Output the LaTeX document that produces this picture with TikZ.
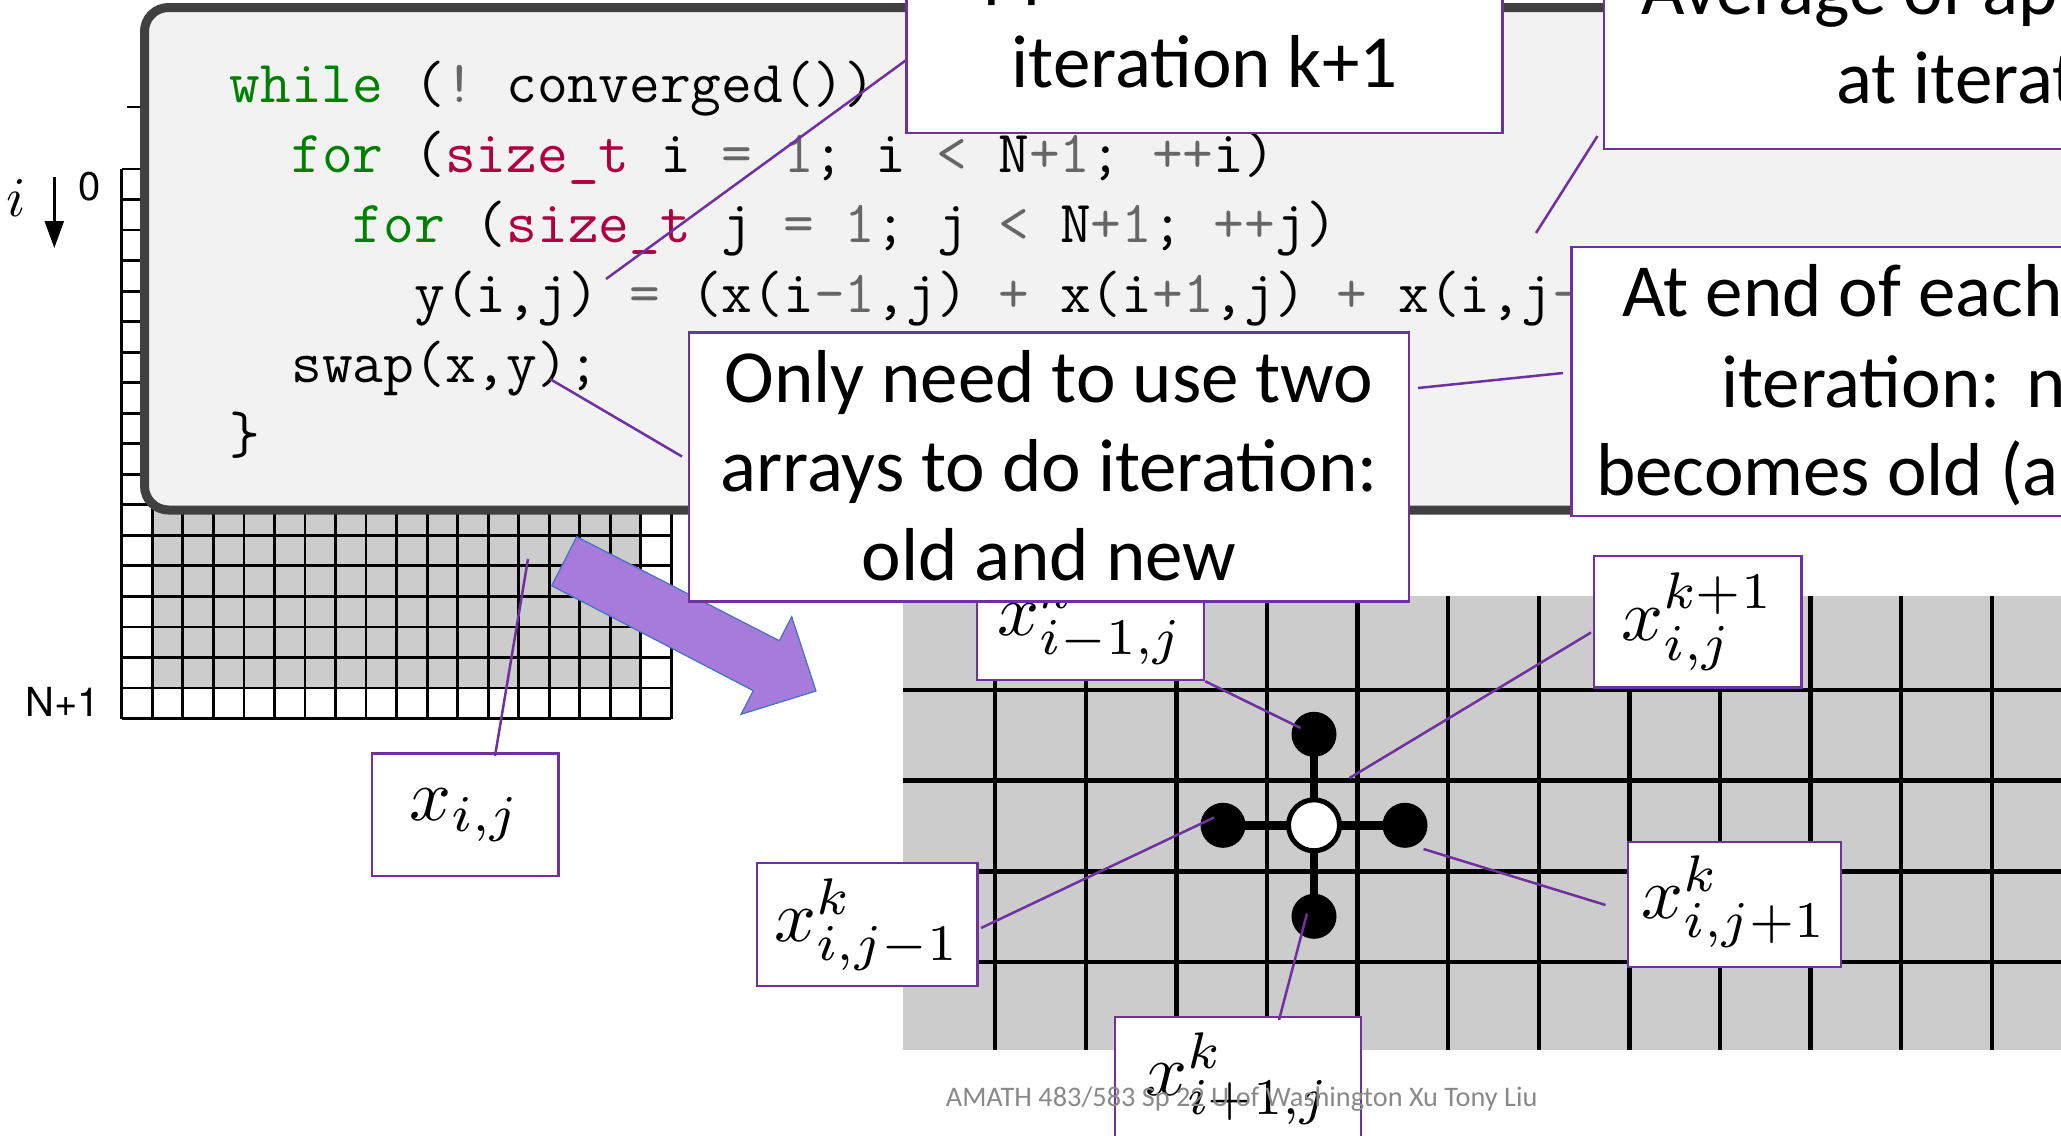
\documentclass[tikz,border=0pt]{standalone}
\usepackage{fix-cm}
\usepackage{fontspec}
\usetikzlibrary{arrows.meta}
\newfontfamily\slidefont{Carlito}
\newfontfamily\herosfont{TeX Gyre Heros}

\definecolor{callout}{HTML}{7030A0}
\definecolor{codefill}{HTML}{F2F2F2}
\definecolor{codeedge}{HTML}{404040}
\definecolor{cellgray}{HTML}{CCCCCC}
\definecolor{arrowfill}{HTML}{A67BDB}
\definecolor{arrowedge}{HTML}{4472C4}
\definecolor{kwgreen}{HTML}{008000}
\definecolor{tyred}{HTML}{B00040}
\definecolor{opgray}{HTML}{666666}
\definecolor{footgray}{HTML}{898989}

% syntax colouring for the code listing
\newcommand\ckw[1]{\textcolor{kwgreen}{#1}}
\newcommand\cty[1]{\textcolor{tyred}{#1}}
\newcommand\cop[1]{\textcolor{opgray}{#1}}

\tikzset{
  gridline/.style={line width=2.8pt, black},
  bigline/.style={line width=4.5pt, black},
  callbox/.style={rectangle, draw=callout, line width=2.5pt, fill=white, inner sep=0pt},
  leader/.style={draw=callout, line width=2.5pt},
  slidetext/.style={font=\slidefont\fontsize{75}{90}\selectfont, inner sep=0pt},
  codeline/.style={font=\ttfamily\fontsize{59.7}{70}\selectfont, inner sep=0pt, anchor=base west},
  % formulas are set at 10pt and enlarged, so sub- and superscripts keep their small-size design
  mathlabel/.style={font=\fontsize{10}{12}\selectfont, scale=7.35, inner sep=0pt},
  axislabel/.style={font=\herosfont\fontsize{40}{44}\selectfont, inner sep=0pt},
  stencildot/.style={circle, fill=black, inner sep=0pt, minimum size=45pt},
}

\begin{document}
\frenchspacing
\begin{tikzpicture}[x=1pt,y=-1pt]
\useasboundingbox (0,0) rectangle (2061,1135);
\clip (0,0) rectangle (2061,1135);

% ---- array x with its boundary cells ----
\fill[cellgray] (152.33,199.53) rectangle (640.81,688.01);
\foreach \k in {0,...,18}{
  \draw[gridline] ({121.8+\k*30.53},169) -- ({121.8+\k*30.53},718.5);
  \draw[gridline] (121.8,{169+\k*30.53}) -- (671.4,{169+\k*30.53});
}
\coordinate (tickw) at (127,107);
\coordinate (ticke) at (145,107);
\draw[gridline] (tickw) -- (ticke);

\coordinate (itop) at (54.3,177.4);
\coordinate (itip) at (54.3,248);
\draw[line width=2.5pt, -{Triangle[length=27pt,width=19pt]}] (itop) -- (itip);
\node[font=\fontsize{10}{12}\selectfont, scale=5.6, inner sep=0pt] (ilab) at (16.5,198) {$i$};
\node[axislabel] (zerolab) at (90,186.5) {0};
\node[axislabel] (nlab) at (62.5,701.5) {N+1};

% ---- code listing ----
\node[draw=codeedge, line width=9pt, fill=codefill, rounded corners=24pt,
      minimum width=2155pt, minimum height=502.5pt, inner sep=0pt] (codebox) at (1222,258.75) {};
\node[codeline] (code1) at (229.5,102)   {\ckw{while} (\cop{!} converged())};
\node[codeline] (code2) at (291.1,172.2) {\ckw{for} (\cty{size\_t} i \cop{=} \cop{1}; i \cop{<} N\cop{+1}; \cop{++}i)};
\node[codeline] (code3) at (352.7,242.4) {\ckw{for} (\cty{size\_t} j \cop{=} \cop{1}; j \cop{<} N\cop{+1}; \cop{++}j)};
\node[codeline] (code4) at (414.3,312.6) {y(i,j) \cop{=} (x(i\cop{-1},j) \cop{+} x(i\cop{+1},j) \cop{+} x(i,j\cop{-}};
\node[codeline] (code5) at (291.1,382.8) {swap(x,y);};
\node[codeline] (code6) at (229.5,453)   {\}};

% ---- five-point stencil on the mesh ----
\fill[cellgray] (902.6,596) rectangle (2100,1050);
\foreach \y in {690,780.7,871.4,962.1}
  \draw[bigline] (902.6,\y) -- (2100,\y);
\foreach \k in {0,...,12}
  \draw[bigline] ({995.2+\k*90.6},596) -- ({995.2+\k*90.6},1050);

\coordinate (sc) at (1314,825.3);
\coordinate (sn) at (1314,734.3);
\coordinate (ss) at (1314,916.3);
\coordinate (sw) at (1223,825.3);
\coordinate (se) at (1405,825.3);
\draw[line width=8.5pt] (sn) -- (ss);
\draw[line width=8.5pt] (sw) -- (se);
\node[stencildot] (dn) at (sn) {};
\node[stencildot] (ds) at (ss) {};
\node[stencildot] (dw) at (sw) {};
\node[stencildot] (de) at (se) {};
\node[circle, draw=black, line width=5pt, fill=white, inner sep=0pt, minimum size=51pt] (dc) at (sc) {};

% ---- block arrow from the array to the mesh ----
\filldraw[fill=arrowfill, draw=arrowedge, line width=1.2pt, line join=miter]
  (576.7,536.7) -- (779.3,640.7) -- (791.7,616.7) -- (816,691)
  -- (741,714.3) -- (753.3,690.7) -- (551.7,585.7) -- cycle;

% ---- labels of the stencil points ----
\node[callbox, minimum width=186.6pt, minimum height=122.4pt] (bxij) at (465.3,814.8) {};
\node[mathlabel] (txij) at (bxij.center) {$x_{i,j}$};
\node[callbox, minimum width=220.5pt, minimum height=123pt] (bwest) at (867.25,924.5) {};
\node[mathlabel] (twest) at (bwest.center) {$x^{k}_{i,j-1}$};
\node[callbox, minimum width=227pt, minimum height=123pt] (bnorth) at (1090.5,618.5) {};
\node[mathlabel] (tnorth) at (bnorth.center) {$x^{k}_{i-1,j}$};
\node[callbox, minimum width=207.5pt, minimum height=131.5pt] (bnew) at (1697.75,621.75) {};
\node[mathlabel] (tnew) at (bnew.center) {$x^{k+1}_{i,j}$};
\node[callbox, minimum width=213pt, minimum height=125pt] (beast) at (1734.5,904.5) {};
\node[mathlabel] (teast) at ([yshift=3pt]beast.center) {$x^{k}_{i,j+1}$};
\node[callbox, minimum width=246pt, minimum height=123pt] (bsouth) at (1238,1078.5) {};
\node[mathlabel] (tsouth) at (bsouth.center) {$x^{k}_{i+1,j}$};

% ---- callouts ----
\node[callbox, minimum width=596pt, minimum height=233pt] (boxA) at (1204.5,16.7) {};
\node[slidetext, anchor=base] (boxAa) at (1204.5,-6) {Approximation at};
\node[slidetext, anchor=base] (boxAb) at (1204.5,87.3) {iteration k+1};

\node[callbox, minimum width=854pt, minimum height=249pt] (boxB) at (2031,24.5) {};
\node[slidetext, anchor=base west] (boxBa) at (1641,14.3) {Average of approximation};
\node[slidetext, anchor=base west] (boxBb) at (1836,103.6) {at iteration k};

\node[callbox, minimum width=720pt, minimum height=269pt] (boxC) at (1049,467) {};
\node[slidetext, anchor=base] (boxCa) at (1049,402) {Only need to use two};
\node[slidetext, anchor=base] (boxCb) at (1049,491) {arrays to do iteration:};
\node[slidetext, anchor=base] (boxCc) at (1049,580) {old and new};

\node[callbox, minimum width=830pt, minimum height=269pt] (boxD) at (1986.5,381.5) {};
\node[slidetext, anchor=base west] (boxDa) at (1622,316) {At end of each};
\node[slidetext, anchor=base west] (boxDb) at (1721,407) {iteration:\hspace{9pt} new};
\node[slidetext, anchor=base west] (boxDc) at (1596,495) {becomes old (and};

% ---- leader lines ----
\coordinate (xijpin) at (528,559);
\coordinate (xijfoot) at (495,756);
\coordinate (westpin) at (1214,817.5);
\coordinate (westfoot) at (981,928);
\coordinate (northpin) at (1300.5,728);
\coordinate (newpin) at (1349.5,778);
\coordinate (newfoot) at (1591,632.5);
\coordinate (eastpin) at (1423.5,849);
\coordinate (eastfoot) at (1605.5,905);
\coordinate (southpin) at (1307,913.5);
\coordinate (southfoot) at (1279,1020);
\coordinate (updpin) at (606,279);
\coordinate (updfoot) at (907,59.5);
\coordinate (swappin) at (550,379);
\coordinate (swapfoot) at (682,456.5);
\coordinate (avgfoot) at (1597.5,136);
\coordinate (avgpin) at (1536,233);
\coordinate (twofoot) at (1418,388);
\coordinate (endfoot) at (1563,373);

\draw[leader] (xijfoot) -- (xijpin);
\draw[leader] (westfoot) -- (westpin);
\draw[leader] (bnorth.south east) -- (northpin);
\draw[leader] (newfoot) -- (newpin);
\draw[leader] (eastfoot) -- (eastpin);
\draw[leader] (southfoot) -- (southpin);
\draw[leader] (updpin) -- (updfoot);
\draw[leader] (swappin) -- (swapfoot);
\draw[leader] (avgfoot) -- (avgpin);
\draw[leader] (twofoot) -- (endfoot);

% ---- footer ----
\node[font=\slidefont\fontsize{28.3}{32}\selectfont, text=footgray, inner sep=0pt, anchor=base] (footer)
  at (1241.7,1106.7) {AMATH 483/583 Sp 22 U of Washington Xu Tony Liu};
\end{tikzpicture}
\end{document}
